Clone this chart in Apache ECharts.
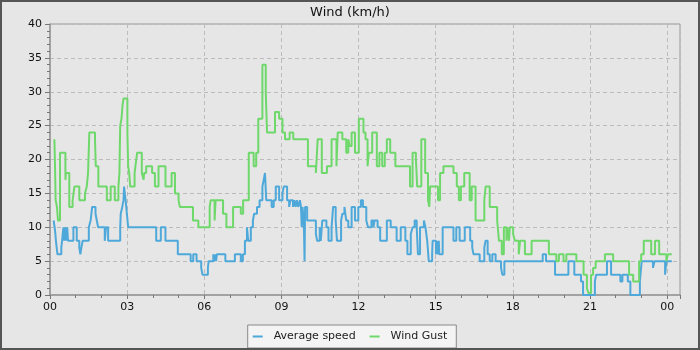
<!DOCTYPE html>
<html>
<head>
<meta charset="utf-8">
<script src="https://cdn.jsdelivr.net/npm/echarts@6/dist/echarts.min.js"></script>
<style>
  html, body { margin: 0; padding: 0; }
  #frame { width: 700px; height: 350px; box-sizing: border-box; border: 2px solid #555; background: #e6e6e6; }
  #container { width: 696px; height: 346px; }
</style>
</head>
<body>
<div id="frame"><div id="container"></div></div>
<script>
// hour of day (step starts here), km/h
var avgSpeed = [
  [0.14,11],[0.18,10],[0.21,9],[0.23,8],[0.29,6],[0.44,7],[0.47,8],[0.52,10],[0.55,8],[0.57,10],
  [0.60,8],[0.62,10],[0.65,8],[0.67,10],[0.70,8],[0.91,10],[1.04,8],[1.14,7],[1.18,6],[1.22,7],
  [1.27,8],[1.51,10],[1.58,11],[1.64,13],[1.77,12],[1.82,11],[1.87,10],[2.13,8],[2.18,10],[2.26,8],
  [2.73,10],[2.75,12],[2.81,13],[2.86,14],[2.88,16],[2.94,14],[2.99,12],[3.04,10],[4.13,8],[4.31,10],
  [4.49,8],[4.97,6],[5.47,5],[5.57,6],[5.70,5],[5.88,4],[5.93,3],[6.14,4],[6.17,5],[6.35,6],
  [6.38,5],[6.42,6],[6.46,5],[6.49,6],[6.82,5],[7.19,6],[7.42,5],[7.50,6],[7.58,8],[7.66,10],
  [7.71,8],[7.81,10],[7.89,11],[7.94,12],[8.05,13],[8.15,14],[8.26,16],[8.31,17],[8.36,18],[8.41,14],
  [8.62,13],[8.70,14],[8.78,16],[8.91,14],[9.04,15],[9.09,16],[9.22,14],[9.30,13],[9.35,14],[9.45,13],
  [9.50,14],[9.55,13],[9.60,14],[9.65,13],[9.72,14],[9.76,13],[9.79,10],[9.82,13],[9.87,11],[9.90,5],
  [9.92,13],[10.00,11],[10.34,9],[10.39,8],[10.49,10],[10.53,8],[10.59,11],[10.75,10],[10.83,8],[10.95,10],
  [11.01,13],[11.11,11],[11.16,8],[11.32,11],[11.37,12],[11.45,13],[11.52,11],[11.60,10],[11.73,13],[11.86,11],
  [11.99,13],[12.09,14],[12.17,13],[12.30,11],[12.37,10],[12.50,11],[12.58,10],[12.62,11],[12.74,10],[12.84,8],
  [13.10,11],[13.25,10],[13.48,8],[13.64,10],[13.82,8],[13.90,6],[14.03,9],[14.10,10],[14.18,11],[14.26,10],
  [14.31,6],[14.39,10],[14.54,11],[14.60,10],[14.67,8],[14.73,5],[14.86,6],[14.88,8],[15.01,6],[15.04,8],
  [15.09,6],[15.12,8],[15.14,6],[15.27,10],[15.69,8],[15.80,10],[15.93,8],[16.13,10],[16.34,8],[16.42,7],
  [16.47,6],[16.71,5],[16.89,7],[16.94,8],[17.02,6],[17.10,5],[17.20,6],[17.33,5],[17.54,4],[17.59,3],
  [17.67,5],[19.16,6],[19.29,5],[19.64,3],[20.16,5],[20.39,3],[20.65,2],[20.73,0],[21.19,2],[21.24,3],
  [21.66,5],[21.82,3],[22.18,2],[22.26,3],[22.47,2],[22.57,0],[22.94,2],[23.01,5],[23.45,4],[23.51,5],
  [23.92,3],[23.97,5],[24.18,5]
];
var windGust = [
  [0.17,23],[0.19,20],[0.22,14],[0.27,13],[0.31,11],[0.39,21],[0.60,17],[0.62,18],[0.75,13],[0.88,14],
  [0.95,16],[1.14,14],[1.36,15],[1.43,16],[1.48,18],[1.53,24],[1.75,23],[1.78,19],[1.88,16],[2.21,14],
  [2.36,16],[2.52,14],[2.66,16],[2.70,18],[2.73,25],[2.78,26],[2.82,28],[2.86,29],[3.01,24],[3.04,19],
  [3.08,18],[3.12,16],[3.29,18],[3.32,19],[3.39,21],[3.57,18],[3.64,17],[3.66,18],[3.74,19],[3.97,18],
  [4.08,16],[4.22,19],[4.49,16],[4.73,18],[4.86,15],[5.00,14],[5.05,13],[5.56,11],[5.77,10],[6.21,13],
  [6.25,14],[6.40,11],[6.44,14],[6.73,12],[6.86,10],[7.12,13],[7.42,12],[7.51,14],[7.73,21],[7.92,19],
  [8.02,21],[8.10,26],[8.26,34],[8.39,30],[8.44,24],[8.75,27],[8.91,26],[9.04,24],[9.14,23],[9.32,24],
  [9.46,23],[10.03,19],[10.34,18],[10.41,23],[10.57,18],[10.77,19],[10.95,23],[11.14,19],[11.19,24],[11.37,23],
  [11.52,21],[11.60,23],[11.65,22],[11.73,24],[11.86,21],[12.01,26],[12.19,24],[12.27,23],[12.35,19],[12.40,21],
  [12.53,24],[12.71,19],[12.81,21],[12.92,19],[13.02,21],[13.10,23],[13.23,21],[13.43,19],[14.00,16],[14.10,21],
  [14.23,20],[14.28,16],[14.44,23],[14.59,18],[14.70,14],[14.75,13],[14.78,16],[15.09,14],[15.17,18],[15.30,19],
  [15.69,18],[15.82,16],[15.90,14],[15.98,16],[16.11,18],[16.32,14],[16.40,16],[16.55,11],[16.89,14],[16.94,16],
  [17.10,13],[17.39,11],[17.46,8],[17.57,6],[17.65,10],[17.75,8],[17.78,10],[17.85,8],[17.88,10],[18.01,9],
  [18.08,8],[18.23,6],[18.28,8],[18.47,6],[18.73,8],[19.40,6],[19.69,5],[19.79,6],[19.97,5],[20.08,6],
  [20.47,5],[20.75,3],[20.88,1],[20.94,0.3],[21.04,3],[21.12,4],[21.22,5],[21.58,6],[21.90,5],[22.52,3],
  [22.68,2],[22.91,5],[22.99,6],[23.09,8],[23.38,6],[23.53,8],[23.69,6],[23.97,5],[24.03,6],[24.18,6]
];
var xTickLabels = ['00','03','06','09','12','15','18','21','00'];

var chart = echarts.init(document.getElementById('container'));
var font = 'DejaVu Sans';

var option = {
    animation: false,
    backgroundColor: '#e6e6e6',
    title: {
        text: 'Wind (km/h)',
        left: 'center',
        top: -1,
        textStyle: { fontFamily: font, fontSize: 13, fontWeight: 'normal', color: '#111' }
    },
    legend: {
        data: ['Average speed', 'Wind Gust'],
        left: 'center',
        top: 323,
        padding: [6, 9, 6, 5],
        itemGap: 14,
        itemWidth: 10,
        itemHeight: 2,
        icon: 'rect',
        backgroundColor: '#f4f4f4',
        borderColor: '#888',
        borderWidth: 1,
        borderRadius: 0,
        textStyle: { fontFamily: font, fontSize: 11, color: '#222', padding: [0, 0, 0, 6] }
    },
    grid: {
        left: 48, right: 18, top: 22, bottom: 53,
        show: true, borderColor: '#999', borderWidth: 1, backgroundColor: 'transparent'
    },
    xAxis: {
        type: 'value',
        min: 0, max: 24.5, interval: 3,
        axisLine: { lineStyle: { color: '#999', width: 1.5 } },
        axisTick: { length: 4, lineStyle: { color: '#777' } },
        minorTick: { show: true, splitNumber: 3, length: 3, lineStyle: { color: '#777' } },
        axisLabel: {
            margin: 7, fontFamily: font, fontSize: 11, color: '#111',
            formatter: function (v) {
                if (v % 3 !== 0) return '';
                return xTickLabels[v / 3];
            }
        },
        splitLine: { show: true, lineStyle: { color: '#bbb', type: [4, 3], width: 1 } }
    },
    yAxis: {
        type: 'value',
        min: 0, max: 40, interval: 5,
        axisLine: { show: true, lineStyle: { color: '#999', width: 1.5 } },
        axisTick: { show: true, length: 5, lineStyle: { color: '#777' } },
        minorTick: { show: true, splitNumber: 5, length: 3, lineStyle: { color: '#777' } },
        axisLabel: { margin: 8, fontFamily: font, fontSize: 11, color: '#111' },
        splitLine: { show: true, lineStyle: { color: '#bbb', type: [4, 3], width: 1 } }
    },
    series: [
        {
            name: 'Average speed',
            type: 'line',
            step: 'end',
            showSymbol: false,
            data: avgSpeed,
            itemStyle: { color: '#4ea9da' },
            lineStyle: { color: '#4ea9da', width: 2 }
        },
        {
            name: 'Wind Gust',
            type: 'line',
            step: 'end',
            showSymbol: false,
            data: windGust,
            itemStyle: { color: '#6fd86b' },
            lineStyle: { color: '#6fd86b', width: 2 }
        }
    ]
};

chart.setOption(option);
</script>
</body>
</html>
